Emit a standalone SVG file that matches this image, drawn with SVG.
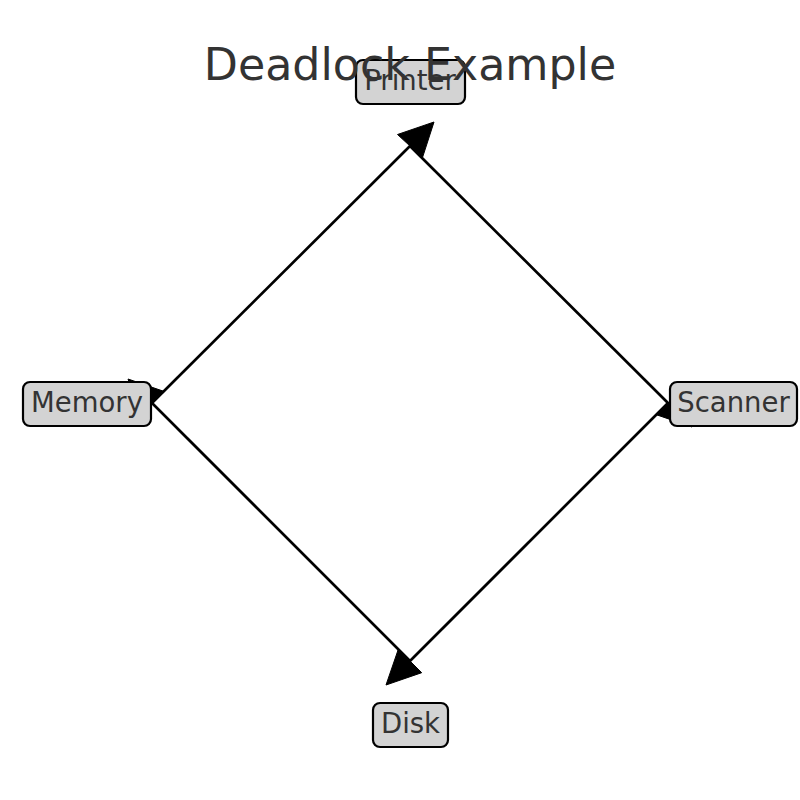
<svg xmlns="http://www.w3.org/2000/svg" width="800" height="800" viewBox="0 0 800 800">
<style>
.edge{stroke:#000;stroke-width:2.7;fill:none;stroke-linecap:butt}
.head{fill:#000;stroke:#000;stroke-width:1}
.box{fill:#d3d3d3;stroke:#000;stroke-width:2.2}
.lbl{font-family:"DejaVu Sans","Liberation Sans",sans-serif;font-size:27.5px;fill:#333;text-anchor:middle}
.title{font-family:"DejaVu Sans","Liberation Sans",sans-serif;font-size:44.3px;fill:#333;text-anchor:middle}
</style>
<rect width="800" height="800" fill="#fff"/>
<g id="connectors">
  <!-- Memory -> Printer -->
  <line class="edge" x1="152" y1="403" x2="410" y2="146"/>
  <polygon class="head" points="434,122 397.5,134.5 422.5,157.5"/>
  <!-- Printer -> Scanner -->
  <line class="edge" x1="410" y1="146" x2="668" y2="403"/>
  <polygon class="head" points="692,427 679.7,391.3 656.3,414.7"/>
  <!-- Scanner -> Disk -->
  <line class="edge" x1="668" y1="403" x2="410" y2="661"/>
  <polygon class="head" points="386,685 398.3,649.3 421.7,672.7"/>
  <!-- Disk -> Memory -->
  <line class="edge" x1="410" y1="661" x2="152" y2="403"/>
  <polygon class="head" points="128,379 163.7,391.3 140.3,414.7"/>
</g>
<g id="node-printer">
  <rect class="box" x="356" y="60" width="109" height="44" rx="7"/>
  <text class="lbl" x="410" y="89.5">Printer</text>
</g>
<g id="node-memory">
  <rect class="box" x="23" y="382" width="128" height="44" rx="7"/>
  <text class="lbl" x="87" y="411.5">Memory</text>
</g>
<g id="node-scanner">
  <rect class="box" x="670" y="382" width="127" height="44" rx="7"/>
  <text class="lbl" x="733.5" y="411.5">Scanner</text>
</g>
<g id="node-disk">
  <rect class="box" x="373" y="703" width="75" height="44" rx="7"/>
  <text class="lbl" x="410.5" y="732.5">Disk</text>
</g>
<text class="title" x="410" y="80">Deadlock Example</text>
</svg>
